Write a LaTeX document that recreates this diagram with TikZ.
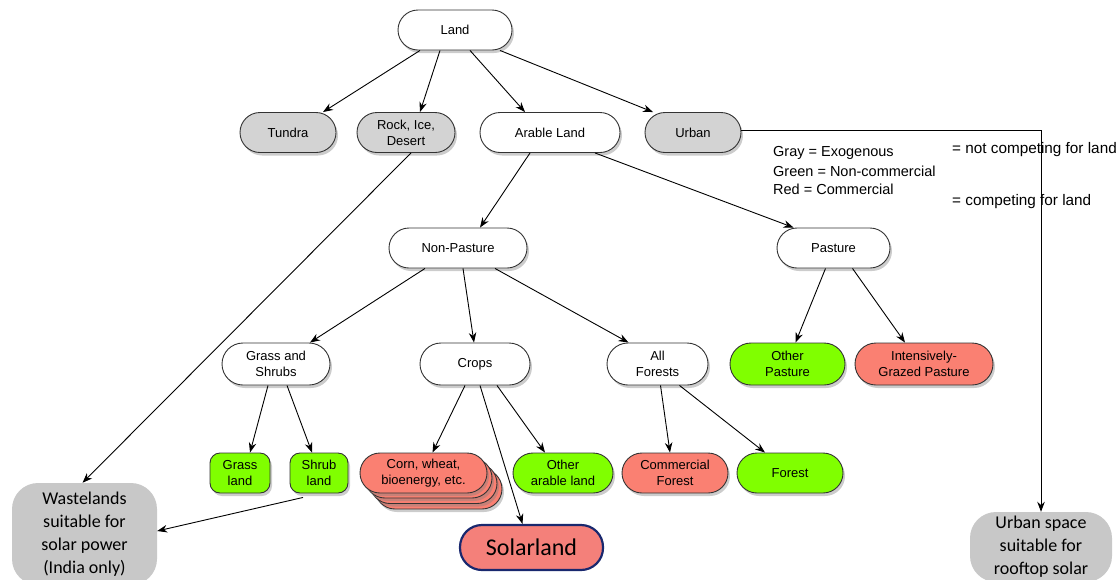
\documentclass[tikz,border=0pt]{standalone}
\usepackage{fontspec}
\setmainfont{Liberation Sans}
\newfontfamily\calib{Carlito}
\usetikzlibrary{arrows.meta,shadows}
\definecolor{grayfill}{RGB}{211,211,211}
\definecolor{greenfill}{RGB}{128,255,0}
\definecolor{redfill}{RGB}{250,128,114}
\definecolor{solarred}{RGB}{244,128,122}
\definecolor{solarblue}{RGB}{25,40,110}
\definecolor{wastegray}{RGB}{200,200,200}
\tikzset{
  box/.style={draw=black!80, line width=0.9pt, rounded corners=20pt, minimum height=40pt,
    align=center, font=\fontsize{13}{16}\selectfont, inner sep=2pt,
    drop shadow={shadow xshift=2pt, shadow yshift=-3pt, opacity=0.4}},
  whitebox/.style={box, fill=white},
  graybox/.style={box, fill=grayfill},
  greenbox/.style={box, fill=greenfill},
  redbox/.style={box, fill=redfill},
  legendtext/.style={anchor=west, inner sep=0pt, font=\fontsize{14.5}{18}\selectfont},
  bigbox/.style={fill=wastegray, align=center, font=\calib\fontsize{18}{23}\selectfont},
  arr/.style={line width=0.9pt, -{Stealth[length=10pt,width=7.5pt]}}
}
\begin{document}
\begin{tikzpicture}[x=1pt,y=-1pt]
\useasboundingbox (0,0) rectangle (1116,579);
\clip (0,0) rectangle (1116,579);

% level 0-1
\node[whitebox, minimum width=114pt] (land) at (455,30) {Land};
\node[graybox, minimum width=96pt] (tundra) at (288,132.5) {Tundra};
\node[graybox, minimum width=98pt] (rock) at (406,132.5) {Rock, Ice,\\Desert};
\node[whitebox, minimum width=140pt] (arable) at (550,132.5) {Arable Land};
\node[graybox, minimum width=96pt] (urban) at (693,132.5) {Urban};

% level 2
\node[whitebox, minimum width=138pt] (nonpasture) at (458,248) {Non-Pasture};
\node[whitebox, minimum width=113pt] (pasture) at (833.5,248) {Pasture};

% level 3
\node[whitebox, minimum width=108pt, minimum height=42pt, rounded corners=21pt] (gs) at (276,364) {Grass and\\Shrubs};
\node[whitebox, minimum width=110pt, minimum height=42pt, rounded corners=21pt] (crops) at (475,364) {Crops};
\node[whitebox, minimum width=101pt, minimum height=42pt, rounded corners=21pt] (af) at (657.5,364) {All\\Forests};
\node[greenbox, minimum width=115pt, minimum height=42pt, rounded corners=21pt] (op) at (787.5,364) {Other\\Pasture};
\node[redbox, minimum width=138pt, minimum height=42pt, rounded corners=21pt] (ig) at (924,364) {Intensively-\\Grazed Pasture};

% level 4
\node[greenbox, minimum width=60pt, rounded corners=10pt] (grassland) at (240,473) {Grass\\land};
\node[greenbox, minimum width=58pt, rounded corners=10pt] (shrubland) at (319,473) {Shrub\\land};
\node[redbox, minimum width=127pt] (corn3) at (438.5,489) {};
\node[redbox, minimum width=127pt, drop shadow={opacity=0}] (corn2) at (433.5,483.5) {};
\node[redbox, minimum width=127pt, drop shadow={opacity=0}] (corn1) at (428.5,478) {};
\node[redbox, minimum width=127pt, drop shadow={opacity=0}] (corn) at (423.5,473) {Corn, wheat,\\bioenergy, etc.};
\node[greenbox, minimum width=100pt] (oa) at (563,473) {Other\\arable land};
\node[redbox, minimum width=106pt] (cf) at (675,473) {Commercial\\Forest};
\node[greenbox, minimum width=106pt] (forest) at (790,473) {Forest};

% bottom
\node[bigbox, rounded corners=26pt, minimum width=145pt, minimum height=102pt] (waste) at (84.5,534) {Wastelands\\suitable for\\solar power\\(India only)};
\node[bigbox, rounded corners=26pt, minimum width=142pt, minimum height=70pt] (urbansp) at (1041,547) {Urban space\\suitable for\\rooftop solar};
\node[draw=solarblue, line width=2.2pt, fill=solarred, rounded corners=22pt, minimum width=143pt, minimum height=45pt, font=\calib\fontsize{24}{28}\selectfont] (solar) at (531.5,547.5) {Solarland};

% edges
\draw[arr] ([xshift=-35pt]land.south) -- ([xshift=35pt]tundra.north);
\draw[arr] ([xshift=-15pt]land.south) -- ([xshift=14pt]rock.north);
\draw[arr] ([xshift=15pt]land.south) -- ([xshift=-25pt]arable.north);
\draw[arr] ([xshift=45pt]land.south) -- ([xshift=-40pt]urban.north);
\draw[arr] ([xshift=5pt]rock.south) -- ([xshift=-2pt]waste.north);
\draw[arr] ([xshift=-20pt]arable.south) -- ([xshift=22pt]nonpasture.north);
\draw[arr] ([xshift=45pt]arable.south) -- ([xshift=-40pt]pasture.north);
\draw[arr] ([xshift=-33pt]nonpasture.south) -- ([xshift=34pt]gs.north);
\draw[arr] ([xshift=5pt]nonpasture.south) -- ([xshift=-1pt]crops.north);
\draw[arr] ([xshift=37pt]nonpasture.south) -- ([xshift=-29pt]af.north);
\draw[arr] ([xshift=-8pt]pasture.south) -- ([xshift=8pt]op.north);
\draw[arr] ([xshift=19pt]pasture.south) -- ([xshift=-19pt]ig.north);
\draw[arr] ([xshift=-8pt]gs.south) -- ([xshift=10pt]grassland.north);
\draw[arr] ([xshift=11pt]gs.south) -- ([xshift=-7pt]shrubland.north);
\draw[arr] ([xshift=-10pt]crops.south) -- ([xshift=9pt]corn.north);
\draw[arr] ([xshift=22pt]crops.south) -- ([xshift=-18pt]oa.north);
\draw[arr] ([xshift=5pt]crops.south) -- ([xshift=-9pt]solar.north);
\draw[arr] ([xshift=3pt]af.south) -- ([xshift=-5pt]cf.north);
\draw[arr] ([xshift=22pt]af.south) -- ([xshift=-25pt]forest.north);
\draw[arr] ([xshift=-16pt,yshift=-4pt]shrubland.south) -- ([yshift=3pt]waste.east);
\draw[arr] ([yshift=2pt]urban.east) -| (urbansp.north);

% legend
\node[legendtext] (lg1) at (773,153) {Gray = Exogenous};
\node[legendtext] (lg2) at (773,171) {Green = Non-commercial};
\node[legendtext] (lg3) at (773,189) {Red = Commercial};
\node[legendtext, font=\fontsize{15.3}{18}\selectfont] (lgnc) at (952,150) {= not competing for land};
\node[legendtext, font=\fontsize{15.3}{18}\selectfont] (lgc) at (952,202) {= competing for land};
\end{tikzpicture}
\end{document}
